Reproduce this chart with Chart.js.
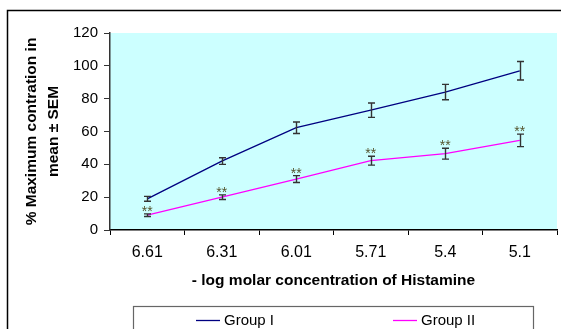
<!DOCTYPE html>
<html>
<head>
<meta charset="utf-8">
<script src="https://cdn.jsdelivr.net/npm/chart.js@4.4.1/dist/chart.umd.min.js"></script>
<style>
  html, body { margin: 0; padding: 0; background: #fff; }
  #wrap { width: 561px; height: 329px; }
</style>
</head>
<body>
<div id="wrap"><canvas id="histChart" width="561" height="329"></canvas></div>
<script>
// ===== DATA =====
const categories = ['6.61', '6.31', '6.01', '5.71', '5.4', '5.1'];
const groupOne = [19, 42, 62.3, 73, 84, 97];
const groupOneSem = [1.5, 2, 3.5, 4.4, 4.7, 5.6];
const groupTwo = [9, 20, 31, 42.2, 46.5, 54.6];
const groupTwoSem = [0.8, 1.4, 2.1, 2.7, 3.3, 3.8];
const groupTwoSig = ['**', '**', '**', '**', '**', '**'];
const yTicks = [0, 20, 40, 60, 80, 100, 120];

const FONT = '"Liberation Sans", Arial, sans-serif';

// ===== BACKGROUND + FRAME =====
const backdrop = {
  id: 'backdrop',
  beforeDraw(chart) {
    const { ctx, chartArea: a } = chart;
    ctx.save();
    ctx.fillStyle = '#fff';
    ctx.fillRect(0, 0, chart.width, chart.height);
    ctx.fillStyle = '#ccffff';
    ctx.fillRect(a.left, a.top, a.right - a.left, a.bottom - a.top);
    // outer frame (cut by the picture edge)
    ctx.strokeStyle = '#000';
    ctx.lineWidth = 1.5;
    ctx.beginPath();
    ctx.moveTo(7.5, chart.height + 2);
    ctx.lineTo(7.5, 10.5);
    ctx.lineTo(chart.width + 2, 10.5);
    ctx.stroke();
    ctx.restore();
  }
};

// ===== ERROR BARS + STARS =====
const errorBars = {
  id: 'errorBars',
  afterDatasetsDraw(chart) {
    const { ctx } = chart;
    const x = chart.scales.x, y = chart.scales.y;
    const sets = [[groupOne, groupOneSem], [groupTwo, groupTwoSem]];
    ctx.save();
    ctx.strokeStyle = '#333';
    ctx.lineWidth = 1.4;
    sets.forEach(([vals, sem]) => {
      vals.forEach((v, i) => {
        const px = Math.round(x.getPixelForValue(i)) + 0.5;
        const top = y.getPixelForValue(v + sem[i]);
        const bot = y.getPixelForValue(v - sem[i]);
        ctx.beginPath();
        ctx.moveTo(px, top); ctx.lineTo(px, bot);
        ctx.moveTo(px - 3.5, top); ctx.lineTo(px + 3.5, top);
        ctx.moveTo(px - 3.5, bot); ctx.lineTo(px + 3.5, bot);
        ctx.stroke();
      });
    });
    // significance marks over group II
    ctx.fillStyle = '#55552e';
    ctx.font = '14px ' + FONT;
    ctx.textAlign = 'center';
    ctx.textBaseline = 'alphabetic';
    groupTwoSig.forEach((s, i) => {
      const px = x.getPixelForValue(i);
      const top = y.getPixelForValue(groupTwo[i] + groupTwoSem[i]);
      ctx.fillText(s, px, top + 2);
    });
    ctx.restore();
  }
};

// ===== TITLES + LEGEND =====
const labels = {
  id: 'labels',
  afterDraw(chart) {
    const { ctx, chartArea: a } = chart;
    ctx.save();
    ctx.fillStyle = '#000';
    ctx.font = 'bold 15.5px ' + FONT;
    ctx.textAlign = 'center';
    ctx.textBaseline = 'middle';
    ctx.fillText('- log molar concentration of Histamine', (a.left + a.right) / 2, 281);

    // y title, two lines
    ctx.save();
    ctx.font = 'bold 15.5px ' + FONT;
    ctx.translate(0, (a.top + a.bottom) / 2);
    ctx.rotate(-Math.PI / 2);
    ctx.fillText('% Maximum contration in', 0, 32);
    ctx.fillText('mean \u00b1 SEM', 0, 54);
    ctx.restore();

    // legend box
    ctx.strokeStyle = '#666';
    ctx.lineWidth = 1.2;
    ctx.strokeRect(133.5, 306.5, 400, 40);
    ctx.font = '15px ' + FONT;
    ctx.textAlign = 'left';
    const items = [
      { text: chart.data.datasets[0].label, color: chart.data.datasets[0].borderColor, x: 196 },
      { text: chart.data.datasets[1].label, color: chart.data.datasets[1].borderColor, x: 393 }
    ];
    items.forEach(it => {
      ctx.strokeStyle = it.color;
      ctx.lineWidth = 1.3;
      ctx.beginPath();
      ctx.moveTo(it.x, 320.5);
      ctx.lineTo(it.x + 24, 320.5);
      ctx.stroke();
      ctx.fillStyle = '#000';
      ctx.fillText(it.text, it.x + 28, 321);
    });
    ctx.restore();
  }
};

// ===== CHART =====
const ctx = document.getElementById('histChart');
new Chart(ctx, {
  type: 'line',
  data: {
    labels: categories,
    datasets: [
      {
        label: 'Group I',
        data: groupOne,
        borderColor: '#000080',
        borderWidth: 1.3,
        pointRadius: 0,
        tension: 0,
        fill: false
      },
      {
        label: 'Group II',
        data: groupTwo,
        borderColor: '#ff00ff',
        borderWidth: 1.3,
        pointRadius: 0,
        tension: 0,
        fill: false
      }
    ]
  },
  options: {
    responsive: false,
    animation: false,
    devicePixelRatio: 1,
    layout: { padding: { left: 0, top: 33, right: 4, bottom: 0 } },
    plugins: {
      legend: { display: false },
      tooltip: { enabled: false }
    },
    scales: {
      x: {
        type: 'category',
        offset: true,
        afterFit(scale) { scale.height = 99; },
        grid: { offset: true, drawOnChartArea: false, drawTicks: true, tickLength: 5, color: '#000', lineWidth: 1 },
        border: { display: true, color: '#000', width: 1.5 },
        ticks: { color: '#000', font: { family: FONT, size: 16 }, padding: 8, maxRotation: 0 }
      },
      y: {
        min: 0,
        max: 120,
        afterFit(scale) { scale.width = 110; },
        afterBuildTicks(scale) { scale.ticks = yTicks.map(v => ({ value: v })); },
        grid: { drawOnChartArea: false, drawTicks: true, tickLength: 6, color: '#333', lineWidth: 1 },
        border: { display: true, color: '#333', width: 1.5 },
        ticks: { color: '#000', font: { family: FONT, size: 15 }, padding: 6 }
      }
    }
  },
  plugins: [backdrop, errorBars, labels]
});
</script>
</body>
</html>
